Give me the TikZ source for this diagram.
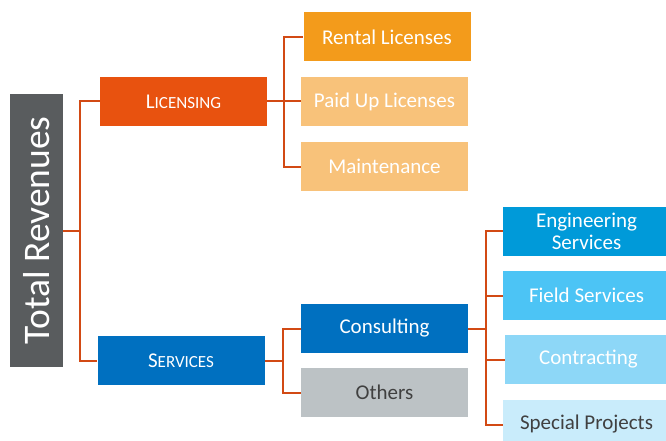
\documentclass[tikz,border=0pt]{standalone}
\usepackage{fontspec}
\setmainfont{Carlito}

\definecolor{totalgray}{HTML}{595C5E}
\definecolor{licorange}{HTML}{E8520F}
\definecolor{rentorange}{HTML}{F39B1B}
\definecolor{paleorange}{HTML}{F8C27A}
\definecolor{srvblue}{HTML}{0070C0}
\definecolor{othgray}{HTML}{BCC2C5}
\definecolor{engblue}{HTML}{009AD9}
\definecolor{fieldblue}{HTML}{4CC4F5}
\definecolor{contblue}{HTML}{8DD7F7}
\definecolor{specblue}{HTML}{C9ECFB}
\definecolor{linkred}{HTML}{D24A14}
\definecolor{darktext}{HTML}{404040}

\newcommand{\smallcap}[2]{#1{\fontsize{17}{17}\selectfont #2}}

\tikzset{
  box/.style={minimum width=167pt, minimum height=49pt, inner sep=0pt,
    text=white, font=\fontsize{21}{22}\selectfont, align=center},
  link/.style={draw=linkred, line width=2pt}
}

\begin{document}
\begin{tikzpicture}[x=1pt,y=-1pt]
\useasboundingbox (0,0) rectangle (666,441);

% root
\node[box, fill=totalgray, minimum width=53pt, minimum height=273pt] (total) at (36.5,230.5) {};
\node[rotate=90, text=white, font=\fontsize{37.5}{37.5}\selectfont] (totaltext) at (total.center) {Total Revenues};

% first level
\node[box, fill=licorange] (licensing) at (183.5,101.5) {\smallcap{L}{ICENSING}};
\node[box, fill=srvblue] (services) at (181,360.5) {\smallcap{S}{ERVICES}};

% licensing branch
\node[box, fill=rentorange] (rental) at (387,37) {Rental Licenses};
\node[box, fill=paleorange] (paid) at (384.5,101.5) {Paid Up Licenses};
\node[box, fill=paleorange] (maint) at (384.5,166.5) {Maintenance};

% services branch
\node[box, fill=srvblue] (consulting) at (384.5,328.5) {Consulting};
\node[box, fill=othgray, text=darktext] (others) at (384.5,392.5) {Others};

% consulting branch
\node[box, fill=engblue] (eng) at (586.5,231) {Engineering\\Services};
\node[box, fill=fieldblue] (field) at (586.5,295.5) {Field Services};
\node[box, fill=contblue] (contract) at (588.5,359.5) {Contracting};
\node[box, fill=specblue, text=darktext] (special) at (586.5,424.5) {Special Projects};

% junctions
\coordinate (totJ) at (80,230.5);
\coordinate (licJ) at (284,101.5);
\coordinate (srvJ) at (283,360.5);
\coordinate (conJ) at (486,328.5);

\draw[link] (total.east) -- (totJ) |- (licensing.west);
\draw[link] (totJ) |- (services.west);

\draw[link] (licensing.east) -- (licJ) |- (rental.west);
\draw[link] (licJ) -- (paid.west);
\draw[link] (licJ) |- (maint.west);

\draw[link] (services.east) -- (srvJ) |- (consulting.west);
\draw[link] (srvJ) |- (others.west);

\draw[link] (consulting.east) -- (conJ) |- (eng.west);
\draw[link] (conJ) |- (field.west);
\draw[link] (conJ) |- (contract.west);
\draw[link] (conJ) |- (special.west);
\end{tikzpicture}
\end{document}
